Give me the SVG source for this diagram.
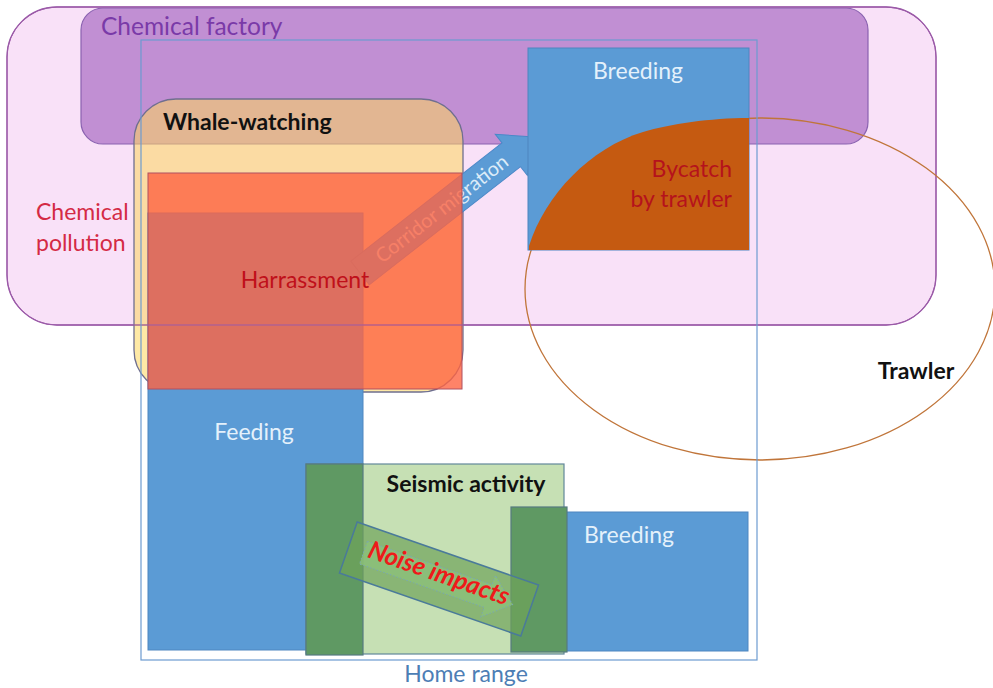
<svg xmlns="http://www.w3.org/2000/svg" width="993" height="688" viewBox="0 0 993 688">
<style>
text{font-family:Lato,"Open Sans","Liberation Sans",sans-serif;}
.lbl{font-size:23px;}
.bold{font-size:23px;font-weight:bold;fill:#111;}
.white{fill:#e4f1fb;}
.blue{fill:#5b9bd5;stroke:#4f86c0;stroke-width:1;}
.dkgreen{fill:#5f9963;stroke:#557a80;stroke-width:1.2;}
</style>
<rect width="993" height="688" fill="#ffffff"/>
<g id="chemical-pollution">
<rect x="7" y="7" width="929" height="318" rx="50" fill="#f9e1f8" stroke="#9b5aa8" stroke-width="1.3"/>
<text class="lbl" x="36" y="220" fill="#d42a45">Chemical</text>
<text class="lbl" x="36" y="251" fill="#d42a45">pollution</text>
</g>
<g id="chemical-factory">
<rect x="81" y="8" width="787" height="136" rx="22" fill="#c18fd3" stroke="#8a62b0" stroke-width="1.2"/>
<text x="101" y="35" font-size="24.5" fill="#7a3aa8">Chemical factory</text>
</g>
<g id="whale-watching">
<rect x="134" y="99" width="329" height="293" rx="42" fill="#fdd75c" fill-opacity="0.55" stroke="#6f6f8f" stroke-width="1.3"/>
<text class="bold" x="163" y="130" font-size="23.5">Whale-watching</text>
</g>
<g id="feeding">
<rect class="blue" x="148" y="213" width="215" height="437"/>
<text class="lbl white" x="254" y="440" text-anchor="middle">Feeding</text>
</g>
<g id="connectors">
<g id="corridor-migration" transform="translate(360,273) rotate(-38)">
<path d="M0,-15 L192,-15 L192,-26 L221,0 L192,26 L192,15 L0,15 Z" fill="#5b9bd5" stroke="#4a88c8" stroke-width="1"/>
<text x="104" y="6.5" font-size="20" fill="#dcebf8" text-anchor="middle">Corridor migration</text>
</g>
</g>
<g id="harrassment">
<rect x="148" y="173" width="314" height="216" fill="#fe6442" fill-opacity="0.8" stroke="#b05060" stroke-width="1"/>
<text class="lbl" x="305" y="288" fill="#c0101a" text-anchor="middle">Harrassment</text>
</g>
<rect x="7" y="7" width="929" height="318" rx="50" fill="none" stroke="#9b5aa8" stroke-width="1"/>
<g id="trawler">
<ellipse cx="760" cy="289" rx="235" ry="171" fill="none" stroke="#c0753a" stroke-width="1.3"/>
<text class="bold" x="916" y="379" text-anchor="middle">Trawler</text>
</g>
<g id="breeding-top">
<rect class="blue" x="528" y="48" width="221" height="202"/>
<text class="lbl white" x="638" y="79" text-anchor="middle">Breeding</text>
</g>
<g id="bycatch">
<path d="M529,250 L529,246 C545,195 590,148 643,132 C670,124 710,118 749,118 L749,250 Z" fill="#c55a11"/>
<text class="lbl" x="732" y="177" fill="#b5121c" text-anchor="end">Bycatch</text>
<text class="lbl" x="732" y="207" fill="#b5121c" text-anchor="end">by trawler</text>
</g>
<g id="breeding-bottom">
<rect class="blue" x="512" y="512" width="236" height="139"/>
</g>
<g id="seismic-activity">
<rect x="306" y="464" width="258" height="190" fill="#c6e0b4" stroke="#62889a" stroke-width="1.2"/>
<rect class="dkgreen" x="306" y="464" width="57" height="191"/>
<rect class="dkgreen" x="511" y="507" width="56" height="145"/>
<text class="bold" x="466" y="492" font-size="24" text-anchor="middle">Seismic activity</text>
</g>
<text class="lbl white" x="629" y="543" text-anchor="middle">Breeding</text>
<g id="noise-impacts" transform="translate(439,579) rotate(19.2)">
<rect x="-96" y="-27" width="192" height="54" fill="#6fa35a" fill-opacity="0.7" stroke="#4a7a9a" stroke-width="1.5"/>
<path d="M-80,-12 L52,-12 L52,-22 L78,0 L52,22 L52,12 L-80,12 Z" fill="#8cc07a" fill-opacity="0.8" stroke="#7aa8b0" stroke-width="1" stroke-dasharray="1.5 2"/>
<text x="-2" y="3" font-size="25" font-weight="bold" font-style="italic" fill="#ee1a1a" text-anchor="middle">Noise impacts</text>
</g>
<g id="home-range">
<rect x="141" y="40" width="616" height="620" fill="none" stroke="#6d9bd0" stroke-width="1.2"/>
<text class="lbl" x="466" y="682" fill="#4d7eb5" text-anchor="middle">Home range</text>
</g>
</svg>
